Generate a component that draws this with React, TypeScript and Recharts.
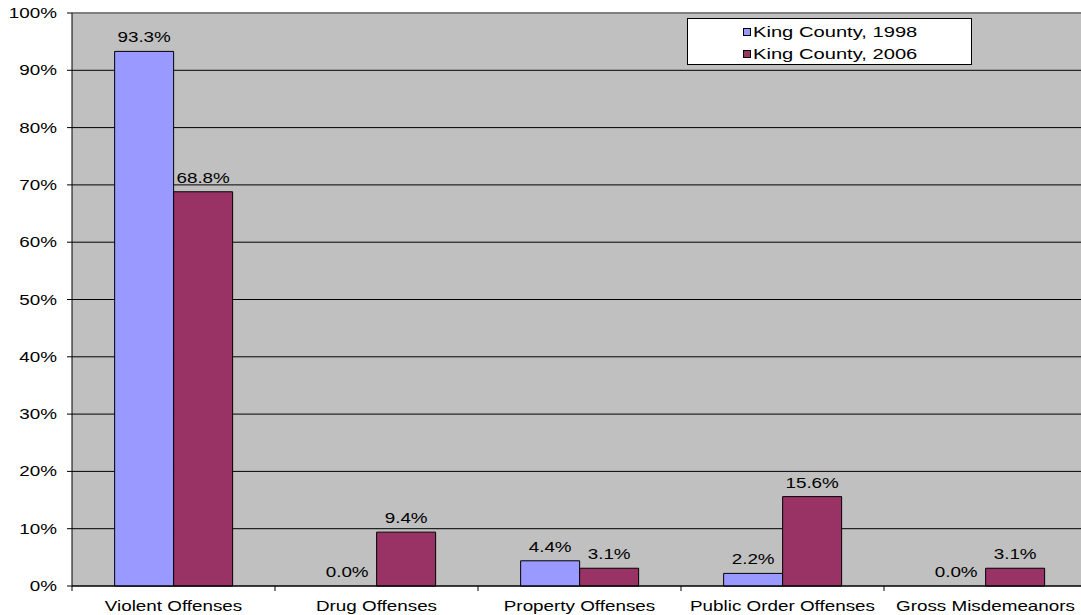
import React from "react";
import {
	BarChart,
	Bar,
	XAxis,
	YAxis,
	CartesianGrid,
	Legend,
	LabelList,
	ReferenceLine,
	Rectangle,
} from "recharts";

const categories = [
	"Violent Offenses",
	"Drug Offenses",
	"Property Offenses",
	"Public Order Offenses",
	"Gross Misdemeanors",
];
const king1998 = [93.3, 0, 4.4, 2.2, 0];
const king2006 = [68.8, 9.4, 3.1, 15.6, 3.1];
const yTicks = [0, 10, 20, 30, 40, 50, 60, 70, 80, 90, 100];

const data = categories.map((name, i) => ({
	name,
	y1998: king1998[i],
	y2006: king2006[i],
}));

const FONT = "'Liberation Sans', Arial, sans-serif";
const STRETCH = 1.3;
const BAND = 203;

const XTick = (props: any) => {
	const { x, y, payload } = props;
	return (
		<g>
			<line x1={x - BAND / 2} y1={y - 8} x2={x - BAND / 2} y2={y - 3} stroke="#000" />
			<text
				transform={`translate(${x},${y + 17}) scale(${STRETCH},1)`}
				textAnchor="middle"
				fontFamily={FONT}
				fontSize={14.5}
				fill="#000"
			>
				{payload.value}
			</text>
		</g>
	);
};

const YTick = (props: any) => {
	const { x, y, payload } = props;
	return (
		<text
			transform={`translate(${x},${y}) scale(${STRETCH},1)`}
			textAnchor="end"
			dy="0.35em"
			fontFamily={FONT}
			fontSize={14.5}
			fill="#000"
		>
			{payload.value}%
		</text>
	);
};

// zero bars get a 1px stub so the label still shows; the stub itself is not drawn
const makeShape = (key: string) => (props: any) =>
	props.payload && props.payload[key] === 0 ? <g /> : <Rectangle {...props} />;

const BarLabel = (props: any) => {
	const { x, y, width, height, value } = props;
	const top = Number(value) === 0 ? y + height : y;
	return (
		<text
			transform={`translate(${x + width / 2},${top - 9}) scale(${STRETCH},1)`}
			textAnchor="middle"
			fontFamily={FONT}
			fontSize={14.5}
			fill="#000"
		>
			{Number(value).toFixed(1)}%
		</text>
	);
};

const LegendBox = (props: any) => {
	const { payload } = props;
	return (
		<div
			style={{
				width: 283,
				height: 43,
				border: "1px solid #000",
				background: "#fff",
				paddingTop: 2,
				boxSizing: "content-box",
			}}
		>
			{payload.map((item: any) => (
				<div
					key={item.value}
					style={{ height: 22, display: "flex", alignItems: "center", paddingLeft: 55 }}
				>
					<span
						style={{
							width: 6,
							height: 6,
							border: "1px solid #000",
							background: item.color,
							display: "inline-block",
							marginRight: 2,
						}}
					/>
					<span
						style={{
							fontFamily: FONT,
							fontSize: 15.5,
							display: "inline-block",
							transform: `scaleX(${STRETCH})`,
							transformOrigin: "left center",
							whiteSpace: "nowrap",
						}}
					>
						{item.value}
					</span>
				</div>
			))}
		</div>
	);
};

export default function App() {
	return (
		<div
			style={{
				position: "absolute",
				left: 0,
				top: 0,
				width: 1081,
				height: 615,
				overflow: "hidden",
				background: "#fff",
			}}
		>
			<BarChart
				width={1087}
				height={615}
				data={data}
				margin={{ top: 13, right: 0, bottom: 0, left: 0 }}
				barCategoryGap="21%"
				barGap={0}
			>
				<CartesianGrid fill="#C0C0C0" stroke="#000" vertical={false} />
				<XAxis
					dataKey="name"
					height={29}
					axisLine={{ stroke: "#000" }}
					tickLine={false}
					tick={<XTick />}
					interval={0}
				/>
				<YAxis
					width={72}
					domain={[0, 100]}
					ticks={yTicks}
					axisLine={{ stroke: "#000" }}
					tickLine={{ stroke: "#000" }}
					tickSize={5}
					tickMargin={10}
					tick={<YTick />}
					interval={0}
				/>
				<ReferenceLine y={100} stroke="#808080" strokeWidth={2} />
				<Legend
					layout="horizontal"
					verticalAlign="middle"
					align="center"
					content={<LegendBox />}
					wrapperStyle={{ left: 687, top: 18, width: 285, height: 47 }}
				/>
				<Bar
					dataKey="y1998"
					name="King County, 1998"
					fill="#9999FF"
					stroke="#000"
					strokeWidth={1}
					minPointSize={1}
					shape={makeShape("y1998")}
					isAnimationActive={false}
				>
					<LabelList dataKey="y1998" content={<BarLabel />} />
				</Bar>
				<Bar
					dataKey="y2006"
					name="King County, 2006"
					fill="#993366"
					stroke="#000"
					strokeWidth={1}
					minPointSize={1}
					shape={makeShape("y2006")}
					isAnimationActive={false}
				>
					<LabelList dataKey="y2006" content={<BarLabel />} />
				</Bar>
			</BarChart>
		</div>
	);
}
